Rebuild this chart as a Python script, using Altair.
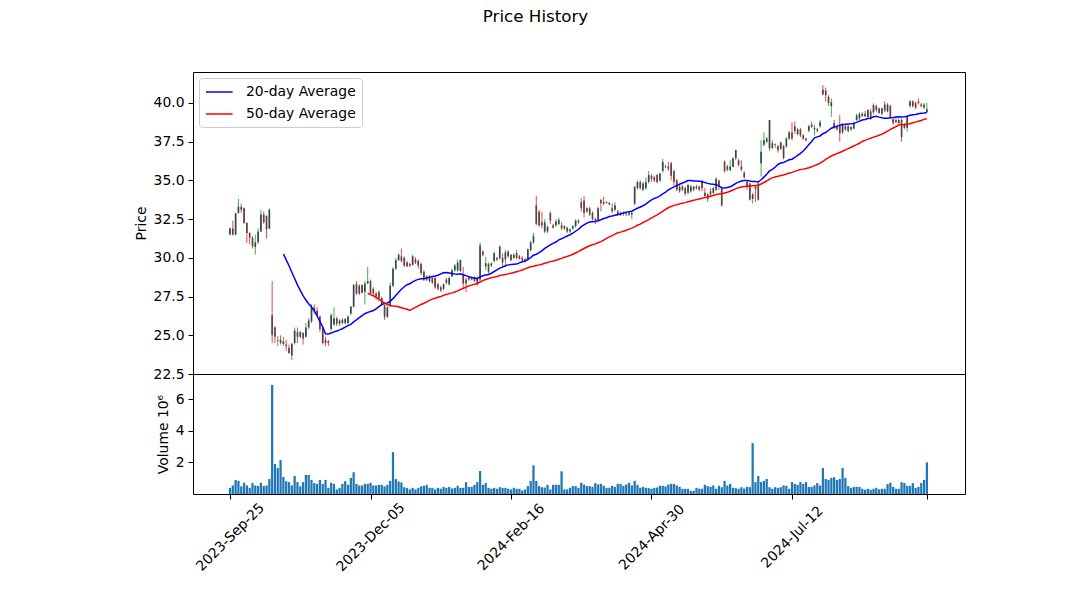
import altair as alt
import pandas as pd

# ---- data (prices in $, volume in millions) ----
opens = [31.5,31.9,31.5,32.9,33.3,33.2,32.25,31.6,31.3,30.7,31.0,31.7,32.8,32.7,31.9,
26.3,25.5,24.65,24.7,24.45,24.4,24.2,23.7,24.5,25.2,24.9,25.15,24.9,25.5,25.9,
26.8,26.6,26.2,25.5,24.7,24.6,25.4,25.7,26.1,25.75,26.0,25.8,25.8,26.4,26.85,
28.3,28.2,27.75,27.8,28.35,28.5,28.0,27.7,27.8,27.4,26.95,26.2,26.9,28.2,29.3,
29.85,30.1,30.0,29.7,29.6,29.55,29.9,29.8,29.6,29.1,28.8,28.5,28.7,28.7,28.3,
28.1,28.0,28.6,28.3,28.8,29.2,29.2,29.15,28.9,28.6,28.6,28.75,28.5,28.7,28.6,
30.4,29.45,29.6,29.5,29.8,30.0,29.97,30.0,29.9,30.1,30.2,30.0,30.3,30.1,30.0,
29.9,29.9,30.5,31.0,33.4,32.98,32.3,31.7,31.7,32.9,32.1,32.1,32.2,32.1,31.9,
31.95,31.7,31.9,32.05,32.3,33.6,33.7,33.0,33.2,32.9,32.5,32.44,33.74,33.6,33.6,
33.45,33.2,33.1,33.0,32.9,32.85,32.8,32.9,32.8,33.5,34.5,34.9,34.4,34.5,34.9,
35.3,35.2,35.35,35.0,35.6,35.9,35.9,36.1,35.6,35.0,34.3,34.6,34.5,34.2,34.3,
34.6,34.5,34.6,34.9,34.2,33.8,34.3,34.2,34.4,35.0,34.5,36.2,35.9,35.67,35.89,
36.43,36.3,35.9,35.5,34.9,34.8,33.8,34.6,34.8,36.1,37.3,37.5,37.07,37.4,37.3,
37.2,37.05,37.2,37.2,37.7,38.1,38.5,38.0,38.3,37.9,37.7,38.2,38.6,38.3,38.3,
38.5,40.85,40.8,40.4,39.8,38.7,38.5,38.58,38.1,38.5,38.5,38.3,38.35,38.9,39.0,
39.3,39.3,39.1,39.45,39.4,39.8,39.65,39.3,39.9,39.45,39.8,38.95,38.9,38.7,38.9,
38.4,38.4,39.8,40.1,40.0,40.1,39.9,39.7,39.4]
highs = [31.95,32.4,32.9,33.8,33.5,33.25,32.3,31.65,31.4,31.5,31.9,33.1,33.0,32.75,33.2,
28.5,25.6,24.95,25.0,24.9,24.7,24.4,24.5,25.5,25.5,25.3,25.2,25.8,26.1,27.0,
27.0,26.8,26.3,25.6,24.9,24.7,26.4,26.8,26.2,26.05,26.1,26.1,26.3,26.9,28.3,
28.5,28.3,28.3,28.5,29.4,28.6,28.1,27.8,27.9,27.5,27.0,26.9,28.4,29.4,30.0,
30.3,30.6,30.1,29.8,29.7,30.2,30.05,29.9,29.7,29.2,28.9,28.9,28.8,28.8,28.4,
28.2,28.35,28.7,28.8,29.3,29.6,29.9,29.9,29.4,28.7,28.8,28.8,28.8,28.8,31.0,
30.5,30.05,29.7,29.7,30.4,30.05,30.8,30.3,30.5,30.5,30.25,30.3,30.5,30.2,30.1,
30.0,30.6,31.1,31.6,34.0,33.1,32.98,32.5,32.1,33.0,32.2,32.5,32.6,32.3,32.1,
32.0,31.9,32.1,32.5,32.5,33.85,34.0,33.3,33.3,33.0,32.6,33.3,33.8,33.95,33.65,
33.6,33.5,33.6,33.1,33.0,33.0,32.9,33.0,33.0,34.6,35.0,35.0,34.9,35.2,35.6,
35.4,35.3,35.4,35.5,36.4,36.0,36.2,36.2,35.7,35.1,34.8,34.7,34.6,34.8,34.7,
34.65,34.7,34.65,35.0,34.5,34.2,34.5,34.6,35.2,35.05,34.6,36.3,36.0,36.3,36.5,
37.0,36.4,36.3,35.6,35.0,34.85,34.2,34.7,34.85,37.6,38.1,37.8,38.9,37.6,37.4,
37.3,37.5,37.3,37.8,38.2,38.75,38.8,38.4,38.4,38.0,37.75,38.6,38.8,38.6,38.4,
38.9,41.16,41.0,40.5,40.3,38.9,38.6,39.22,38.7,38.6,38.6,38.5,38.8,39.3,39.4,
39.4,39.5,39.6,39.6,39.98,39.9,39.7,39.7,40.1,40.0,39.9,39.0,39.1,39.0,39.0,
38.7,39.2,40.2,40.2,40.1,40.3,40.0,40.0,40.0]
lows = [31.45,31.45,31.45,32.85,32.9,32.2,30.95,30.9,30.6,30.2,30.9,31.65,32.2,31.26,31.85,
24.5,24.5,24.3,24.4,24.3,24.0,23.8,23.4,24.4,24.5,24.8,24.4,24.85,25.4,25.8,
26.4,26.2,25.2,24.4,24.3,24.3,25.3,25.6,25.6,25.6,25.7,25.7,25.7,26.3,26.8,
27.6,27.6,27.7,27.0,28.3,27.6,27.6,27.3,27.2,26.9,26.0,26.1,26.8,28.1,29.2,
29.8,29.7,29.4,29.4,29.4,29.5,29.6,29.3,28.9,28.5,28.5,28.4,28.3,28.0,27.9,
27.8,27.9,28.3,28.2,28.75,29.1,29.1,29.1,28.0,27.8,28.5,28.55,28.45,28.2,28.5,
30.1,29.2,29.0,29.4,29.7,29.8,29.9,29.4,29.4,30.0,29.8,29.9,29.9,29.9,29.8,
29.7,29.8,30.4,30.9,32.1,32.0,31.9,31.6,31.6,32.2,31.9,32.0,32.1,31.8,31.8,
31.6,31.6,31.8,31.95,32.2,33.0,32.6,32.9,32.7,32.4,32.2,32.4,33.0,33.4,33.5,
33.4,32.9,33.0,32.7,32.7,32.7,32.7,32.7,32.5,33.4,34.4,34.4,34.3,34.4,34.8,
34.9,34.9,34.8,34.9,35.5,35.8,35.6,35.0,34.7,34.3,34.2,34.3,34.0,34.1,34.2,
34.3,34.4,34.3,34.3,33.85,33.6,34.0,34.1,34.3,34.4,33.3,35.5,35.6,35.6,35.85,
36.3,35.9,35.6,35.1,34.4,33.7,33.5,33.6,33.7,35.24,37.2,37.4,36.9,37.0,37.1,
36.8,36.95,36.35,37.1,37.6,37.6,38.0,37.9,37.8,37.6,37.5,38.1,38.4,37.9,38.1,
38.4,40.5,40.1,39.8,39.1,38.3,38.2,37.5,38.0,38.2,38.1,38.2,38.3,38.85,38.9,
39.1,39.1,39.0,38.9,39.3,39.4,39.3,39.2,39.4,39.4,39.0,38.6,38.7,38.6,37.5,
38.3,38.15,39.7,39.7,39.6,39.9,39.7,39.6,39.4]
closes = [31.9,31.5,32.88,33.3,33.1,32.25,31.6,31.3,30.75,31.0,31.7,32.8,32.3,31.85,33.1,
25.0,24.9,24.7,24.5,24.6,24.3,23.85,24.45,25.3,24.9,25.2,24.8,25.5,25.95,26.8,
26.6,26.3,25.4,24.5,24.5,24.5,26.3,26.1,25.75,25.95,25.8,26.05,26.2,26.85,28.25,
27.7,27.7,28.25,28.35,28.5,27.7,27.7,27.5,27.4,26.95,26.2,26.8,28.2,29.3,29.85,
30.2,29.8,29.5,29.45,29.5,30.1,29.7,29.5,29.0,28.6,28.6,28.8,28.4,28.1,28.0,
27.9,28.3,28.4,28.7,29.2,29.5,29.7,29.85,28.35,28.35,28.75,28.6,28.75,28.3,30.8,
30.2,29.65,29.1,29.65,30.3,29.9,30.72,29.7,30.35,30.4,29.85,30.2,30.0,29.95,29.85,
29.75,30.55,31.0,31.4,32.2,32.1,32.1,32.3,32.0,32.4,31.95,32.35,32.45,31.9,32.05,
31.7,31.85,32.05,32.4,32.4,33.2,32.9,33.2,32.8,32.5,32.4,33.2,33.52,33.5,33.55,
33.55,33.0,33.4,32.8,32.8,32.9,32.85,32.8,32.9,34.6,34.9,34.5,34.8,34.9,35.35,
35.1,35.0,34.9,35.45,36.2,35.85,35.75,35.3,34.9,34.4,34.6,34.4,34.15,34.7,34.6,
34.4,34.6,34.4,34.5,34.0,34.1,34.1,34.5,35.1,34.6,33.4,35.6,35.7,35.89,36.43,
36.96,36.0,35.7,35.2,34.6,33.75,34.1,34.45,33.75,36.85,37.6,37.7,38.9,37.1,37.35,
36.95,37.45,36.45,37.7,38.1,37.7,38.2,38.3,37.9,37.7,37.6,38.5,38.45,38.4,38.2,
38.75,40.55,40.5,40.0,40.05,38.4,38.3,38.04,38.65,38.3,38.2,38.45,38.7,39.2,39.3,
39.15,39.15,39.55,39.0,39.87,39.55,39.35,39.65,39.5,39.9,39.1,38.7,38.75,38.9,37.8,
38.6,39.1,40.1,39.8,39.7,40.0,39.8,39.9,39.6]
volumes = [0.39,0.54,0.89,0.83,0.48,0.71,0.54,0.39,0.69,0.54,
0.50,0.71,0.50,0.54,0.95,6.89,1.89,1.64,2.14,1.08,
0.81,0.75,0.54,1.14,0.75,0.48,0.75,1.2,1.2,0.89,
0.69,0.64,0.89,0.64,0.89,0.39,0.71,0.64,0.29,0.39,
0.64,0.81,0.58,1.02,1.37,0.64,0.54,0.54,0.64,0.64,
0.71,0.54,0.54,0.58,0.58,0.48,0.58,0.83,2.64,0.95,
0.79,0.73,0.43,0.37,0.29,0.39,0.29,0.39,0.48,0.52,
0.58,0.39,0.39,0.29,0.39,0.33,0.45,0.39,0.45,0.35,
0.39,0.52,0.39,0.39,0.75,0.45,0.45,0.58,0.75,1.45,
0.58,0.69,0.39,0.33,0.39,0.33,0.43,0.39,0.39,0.33,
0.29,0.39,0.33,0.33,0.22,0.29,0.5,0.83,1.81,0.83,
0.5,0.43,0.41,0.58,0.29,0.58,0.58,0.58,1.43,0.29,
0.29,0.39,0.5,0.5,0.39,
0.71,0.6,0.5,0.5,0.45,0.69,0.6,0.64,0.52,0.39,
0.39,0.52,0.45,0.64,0.64,0.52,0.6,0.71,0.54,0.83,
0.58,0.39,0.45,0.39,0.37,0.33,0.39,0.41,0.52,0.52,
0.48,0.6,0.64,0.64,0.54,0.45,0.33,0.33,0.33,0.2,
0.2,0.39,0.33,0.33,0.58,0.5,0.45,0.54,0.33,0.52,
0.43,0.83,0.54,0.64,0.39,0.37,0.33,0.43,0.35,0.45,
0.43,3.21,0.75,1.14,0.75,0.83,0.95,0.43,0.33,0.43,
0.39,0.43,0.54,0.52,0.33,0.75,0.64,0.58,0.75,0.64,
0.75,0.45,0.45,0.54,0.69,0.54,1.64,0.95,0.89,1.02,
1.06,0.89,0.95,1.64,1.02,0.5,0.39,0.45,0.45,0.45,
0.33,0.27,0.33,0.27,0.33,0.39,0.29,0.33,0.33,0.62,
0.71,0.45,0.33,0.33,0.75,0.69,0.52,0.52,0.69,0.39,
0.45,0.69,0.89,2.0]

tick_idx = [0, 50, 100, 150, 200, 248]
tick_lbl = ["2023-Sep-25", "2023-Dec-05", "2024-Feb-16", "2024-Apr-30", "2024-Jul-12", ""]
price_ticks = [22.5, 25.0, 27.5, 30.0, 32.5, 35.0, 37.5, 40.0]
vol_ticks = [2, 4, 6]
series_names = ["20-day Average", "50-day Average"]

n = len(closes)
df = pd.DataFrame({"idx": list(range(n)), "open": opens, "high": highs,
                   "low": lows, "close": closes, "vol": volumes})

FONT = "DejaVu Sans"
xscale = alt.Scale(domain=[-13.17, 261.57], nice=False, zero=False)
yscale = alt.Scale(domain=[22.5, 42.0], nice=False, zero=False)
yaxis = alt.Axis(values=price_ticks, format=".1f", title="Price")
up = "datum.close >= datum.open"

base = alt.Chart(df)

wicks = base.mark_rule(strokeWidth=1).encode(
    x=alt.X("idx:Q", scale=xscale, axis=None),
    y=alt.Y("low:Q", scale=yscale, axis=yaxis),
    y2="high:Q",
    color=alt.condition(up, alt.value("#3fae49"), alt.value("#e8474d")),
)

bodies = base.transform_calculate(
    b0="datum.idx - 0.3", b1="datum.idx + 0.3"
).mark_bar(strokeWidth=0).encode(
    x=alt.X("b0:Q", scale=xscale, axis=None),
    x2="b1:Q",
    y=alt.Y("open:Q", scale=yscale, axis=yaxis),
    y2="close:Q",
    color=alt.condition(up, alt.value("#3c4250"), alt.value("#5a4640")),
)

ma = base.transform_window(
    m20="mean(close)", frame=[-19, 0], sort=[alt.SortField("idx")]
).transform_window(
    m50="mean(close)", frame=[-49, 0], sort=[alt.SortField("idx")]
).transform_calculate(
    a20="datum.idx >= 19 ? datum.m20 : null",
    a50="datum.idx >= 49 ? datum.m50 : null",
).transform_fold(
    ["a20", "a50"], as_=["key", "value"]
).transform_filter(
    "isValid(datum.value)"
).transform_calculate(
    series="datum.key == 'a20' ? '20-day Average' : '50-day Average'"
).mark_line(strokeWidth=1.5).encode(
    x=alt.X("idx:Q", scale=xscale, axis=None),
    y=alt.Y("value:Q", scale=yscale, axis=yaxis),
    color=alt.Color("series:N",
                    scale=alt.Scale(domain=series_names, range=["#0000ff", "#ff0000"]),
                    legend=alt.Legend(title=None, orient="top-left", offset=6,
                                      fillColor="white", strokeColor="#cccccc",
                                      cornerRadius=3, padding=6,
                                      symbolType="M-1,0H2.8", symbolSize=196,
                                      symbolStrokeWidth=1.5, labelFontSize=13.9,
                                      labelFont=FONT, labelColor="black",
                                      labelOffset=25, rowPadding=7)),
)

price = alt.layer(wicks, bodies, ma).properties(width=772, height=302)

label_expr = " : ".join(f"datum.value == {v} ? '{l}'" for v, l in zip(tick_idx, tick_lbl)) + " : ''"

vol = base.transform_calculate(
    v0="datum.idx - 0.4", v1="datum.idx + 0.4"
).mark_bar(color="#1f77b4", strokeWidth=0).encode(
    x=alt.X("v0:Q", scale=xscale,
            axis=alt.Axis(values=tick_idx, labelExpr=label_expr, title=None,
                          labelAngle=-45, labelAlign="center", labelBaseline="middle",
                          labelPadding=38, labelOverlap=False)),
    x2="v1:Q",
    y=alt.Y("vol:Q", scale=alt.Scale(domain=[0, 7.58], nice=False),
            axis=alt.Axis(values=vol_ticks, format="d", title="Volume  10⁶")),
    y2=alt.datum(0),
).properties(width=772, height=120)

chart = alt.vconcat(price, vol, spacing=0, bounds="flush").properties(
    title=alt.TitleParams("Price History", font=FONT, fontSize=16.7, fontWeight="normal",
                          color="black", anchor="middle", frame="bounds", dx=-14, offset=46),
    padding={"left": 125, "top": 0, "right": 5, "bottom": 5},
).configure_axis(
    labelFont=FONT, titleFont=FONT, labelFontSize=13.9, titleFontSize=13.9,
    titleFontWeight="normal", labelColor="black", titleColor="black",
    tickColor="black", tickSize=5, tickWidth=1, domain=False, grid=False,
    labelPadding=4, titlePadding=5,
).configure_view(stroke="black", strokeWidth=1)

chart.save("out.html", embed_options={"renderer": "svg", "actions": False})
